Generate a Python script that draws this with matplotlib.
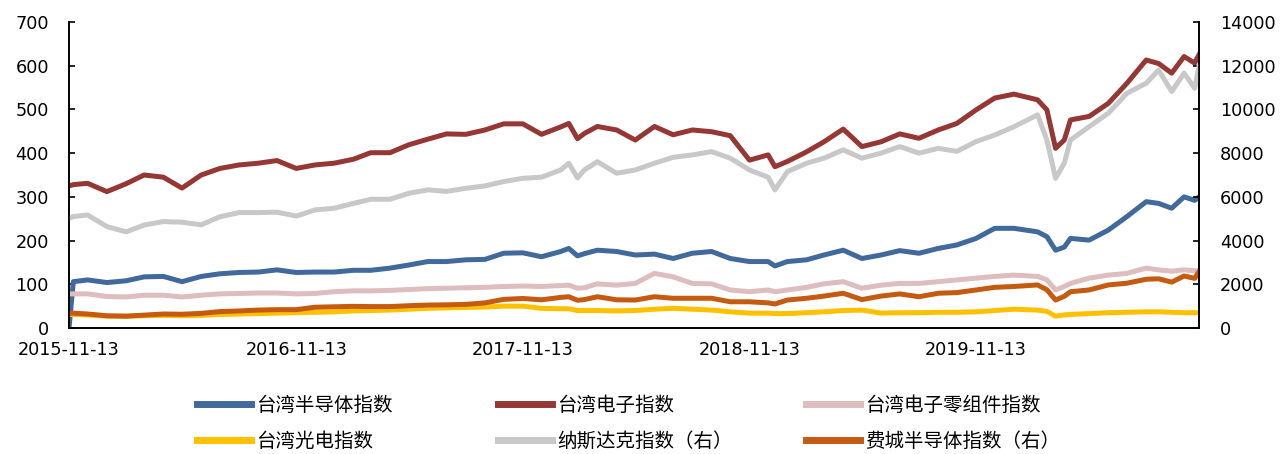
import numpy as np
import pandas as pd
import matplotlib
matplotlib.use("Agg")
import matplotlib.pyplot as plt

plt.rcParams['font.family'] = ['DejaVu Sans', 'Noto Sans CJK SC']
plt.rcParams['axes.unicode_minus'] = False

# snapshots (roughly monthly, extra points at turns)
dates = ["2015-11-13", "2015-11-20", "2015-12-13", "2016-01-13", "2016-02-13", "2016-03-13",
         "2016-04-13", "2016-05-13", "2016-06-13", "2016-07-13", "2016-08-13", "2016-09-13",
         "2016-10-13", "2016-11-13", "2016-12-13", "2017-01-13", "2017-02-13", "2017-03-13",
         "2017-04-13", "2017-05-13", "2017-06-13", "2017-07-13", "2017-08-13", "2017-09-13",
         "2017-10-13", "2017-11-13", "2017-12-13", "2018-01-13", "2018-01-26", "2018-02-09",
         "2018-02-20", "2018-03-13", "2018-04-13", "2018-05-13", "2018-06-13", "2018-07-13",
         "2018-08-13", "2018-09-13", "2018-10-13", "2018-11-13", "2018-12-13", "2018-12-24",
         "2019-01-13", "2019-02-13", "2019-03-13", "2019-04-13", "2019-05-13", "2019-06-13",
         "2019-07-13", "2019-08-13", "2019-09-13", "2019-10-13", "2019-11-13", "2019-12-13",
         "2020-01-13", "2020-02-20", "2020-03-06", "2020-03-20", "2020-04-03", "2020-04-13",
         "2020-05-13", "2020-06-13", "2020-07-13", "2020-08-13", "2020-09-02", "2020-09-23",
         "2020-10-13", "2020-10-30", "2020-11-06"]

tw_semi = [0, 106, 110, 104, 108, 117, 118, 106, 118, 124, 127, 128,
           133, 127, 128, 128, 132, 132, 137, 144, 152, 152, 156, 157,
           171, 172, 163, 175, 182, 165, 170, 178, 175, 167, 169, 159,
           171, 175, 159, 152, 152, 142, 152, 156, 167, 178, 159, 167,
           177, 171, 182, 190, 205, 228, 228, 220, 209, 178, 185, 205,
           201, 224, 255, 289, 285, 274, 300, 292, 300]
tw_elec = [325, 328, 331, 312, 330, 350, 345, 320, 350, 365, 373, 377,
           383, 365, 373, 377, 386, 401, 401, 419, 432, 444, 443, 453,
           467, 467, 443, 460, 468, 433, 445, 461, 453, 430, 461, 442,
           453, 449, 440, 384, 396, 369, 381, 403, 426, 455, 415, 426,
           444, 434, 453, 468, 499, 526, 535, 522, 499, 411, 430, 476,
           484, 514, 560, 613, 605, 583, 621, 606, 625]
tw_comp = [78, 78, 78, 72, 71, 75, 75, 71, 75, 78, 79, 80,
           80, 78, 79, 83, 85, 85, 86, 88, 90, 91, 92, 93,
           95, 96, 95, 97, 98, 91, 92, 101, 98, 102, 125, 117,
           102, 101, 87, 83, 87, 83, 87, 93, 101, 106, 91, 98,
           102, 102, 106, 110, 114, 118, 121, 118, 110, 87, 95, 102,
           114, 121, 125, 137, 133, 130, 133, 131, 131]
tw_opto = [31, 31, 30, 27, 27, 28, 29, 28, 29, 31, 32, 33,
           34, 35, 36, 37, 39, 40, 41, 43, 45, 46, 47, 48,
           50, 50, 45, 44, 44, 40, 40, 40, 39, 40, 43, 45,
           43, 41, 37, 34, 34, 33, 33, 35, 37, 40, 41, 34,
           35, 35, 36, 36, 37, 40, 43, 41, 38, 27, 30, 31,
           33, 35, 36, 37, 37, 36, 35, 35, 35]
nasdaq = [5020, 5100, 5170, 4640, 4400, 4710, 4870, 4840, 4720, 5090, 5280, 5280,
          5300, 5120, 5400, 5480, 5700, 5890, 5890, 6160, 6320, 6250, 6390, 6500,
          6700, 6850, 6900, 7230, 7540, 6870, 7230, 7610, 7080, 7230, 7540, 7810,
          7920, 8070, 7770, 7230, 6900, 6320, 7150, 7540, 7770, 8150, 7770, 8000,
          8300, 8000, 8220, 8080, 8530, 8830, 9210, 9750, 8600, 6850, 7540, 8600,
          9210, 9830, 10740, 11200, 11800, 10820, 11660, 10970, 11960]
sox = [672, 680, 640, 560, 540, 590, 640, 630, 670, 750, 780, 820,
       840, 840, 950, 970, 990, 980, 980, 1020, 1050, 1060, 1080, 1150,
       1310, 1350, 1290, 1400, 1430, 1270, 1300, 1430, 1290, 1280, 1430, 1360,
       1360, 1360, 1200, 1200, 1150, 1100, 1280, 1360, 1460, 1590, 1300, 1460,
       1560, 1430, 1590, 1620, 1740, 1860, 1900, 1970, 1750, 1280, 1450, 1660,
       1740, 1970, 2050, 2230, 2250, 2100, 2380, 2270, 2580]

tick_dates = ["2015-11-13", "2016-11-13", "2017-11-13", "2018-11-13", "2019-11-13"]

x = pd.to_datetime(dates)

fig = plt.figure(figsize=(12.8, 4.54), dpi=100)
ax = fig.add_axes([69/1280, 1-328/454, 1130/1280, 306/454])
ax2 = ax.twinx()

lw = 3.6
l1, = ax.plot(x, tw_semi, color='#41699C', lw=lw, label='台湾半导体指数')
l2, = ax.plot(x, tw_elec, color='#953735', lw=lw, label='台湾电子指数')
l3, = ax.plot(x, tw_comp, color='#DDBDBD', lw=lw, label='台湾电子零组件指数')
l4, = ax.plot(x, tw_opto, color='#FFC000', lw=lw, label='台湾光电指数')
l5, = ax2.plot(x, nasdaq, color='#C8C8C8', lw=lw, label='纳斯达克指数（右）')
l6, = ax2.plot(x, sox, color='#C55A11', lw=lw, label='费城半导体指数（右）')

ax.set_ylim(0, 700)
ax.set_yticks(range(0, 701, 100))
ax2.set_ylim(0, 14000)
ax2.set_yticks(range(0, 14001, 2000))
ax.set_xlim(pd.Timestamp("2015-11-13"), pd.Timestamp("2020-11-06"))
ax.set_xticks(pd.to_datetime(tick_dates))
ax.set_xticklabels(tick_dates)

for a in (ax, ax2):
    a.spines['top'].set_visible(False)
    for s in a.spines.values():
        s.set_linewidth(1.2)
    a.tick_params(axis='both', labelsize=12.7, width=1.2, length=4,
                  direction='in', colors='black')
ax.tick_params(axis='x', length=0, pad=9.5)
ax.tick_params(axis='y', pad=14.5)
ax2.tick_params(axis='y', pad=15)

cols = [([l1, l4], 197), ([l2, l5], 498), ([l3, l6], 806)]
for hs, px in cols:
    fig.legend(handles=hs, loc='upper left', bbox_to_anchor=(px/1280, 1-395/454),
               frameon=False, prop={'family': 'Noto Sans CJK SC', 'size': 14},
               handlelength=2.8, handletextpad=0.25,
               borderpad=0, borderaxespad=0, labelspacing=0.75)
for leg in fig.legends:
    for h in leg.legend_handles:
        h.set_linewidth(5)

fig.savefig("out.png", dpi=100)
